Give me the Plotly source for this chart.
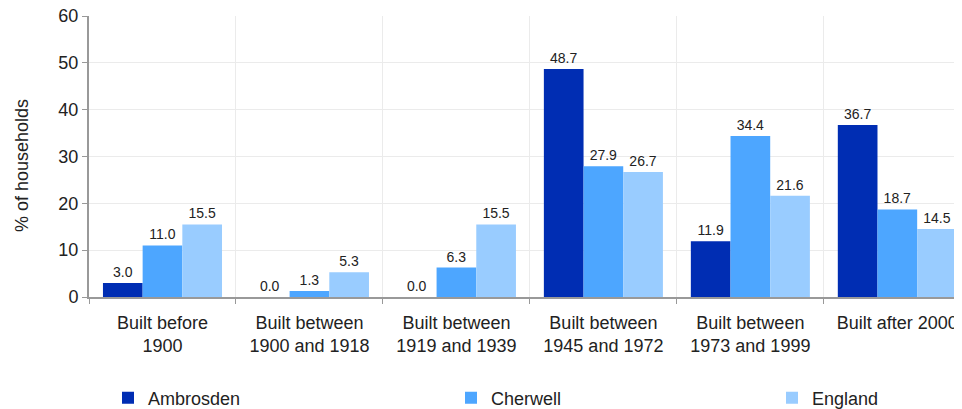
import plotly.graph_objects as go

categories = ["Built before<br>1900", "Built between<br>1900 and 1918", "Built between<br>1919 and 1939",
              "Built between<br>1945 and 1972", "Built between<br>1973 and 1999", "Built after 2000"]
ambrosden = [3.0, 0.0, 0.0, 48.7, 11.9, 36.7]
cherwell = [11.0, 1.3, 6.3, 27.9, 34.4, 18.7]
england = [15.5, 5.3, 15.5, 26.7, 21.6, 14.5]
series_names = ["Ambrosden", "Cherwell", "England"]
colors = ["#002DB3", "#4DA6FF", "#99CCFF"]
legend_ids = ["legend", "legend2", "legend3"]
legend_x = [100, 443, 764]

W, H = 954, 401  # page body has an 8px margin

fig = go.Figure()
for name, vals, col, lg in zip(series_names, [ambrosden, cherwell, england], colors, legend_ids):
    fig.add_trace(go.Bar(
        x=categories, y=vals, name=name, marker=dict(color=col, line=dict(width=0)),
        text=[f"{v:.1f}" for v in vals], textposition="outside", cliponaxis=False,
        textfont=dict(size=14, color="#222222"), legend=lg,
    ))

legend_common = dict(orientation="h", xref="container", yref="container",
                     xanchor="left", yanchor="middle", y=(H - 390) / H,
                     font=dict(size=18, color="#222222"), itemwidth=30,
                     bgcolor="rgba(0,0,0,0)")
layout_legends = {}
for lg, lx in zip(legend_ids, legend_x):
    layout_legends[lg] = dict(legend_common, x=lx / W)

fig.update_layout(
    width=W, height=H,
    margin=dict(l=81, r=0, t=8, b=112, autoexpand=False),
    paper_bgcolor="white", plot_bgcolor="white",
    font=dict(family="Liberation Sans, Arial, sans-serif", color="#222222"),
    barmode="group", bargap=0.19, bargroupgap=0,
    showlegend=True,
    **layout_legends,
)
fig.add_annotation(text="% of households", textangle=-90, xref="paper", yref="paper",
                   x=(22 - 89) / 873, y=(297 - 166) / 281, showarrow=False,
                   font=dict(size=18, color="#222222"), xanchor="center", yanchor="middle")
fig.update_xaxes(
    tickson="boundaries", showgrid=True, gridcolor="#EBEBEB", gridwidth=1,
    showline=True, linecolor="#999999", linewidth=2,
    ticks="outside", ticklen=5, tickcolor="#999999",
    tickfont=dict(size=18, color="#222222"), ticklabelstandoff=8,
    ticklabeloverflow="allow",
    range=[-0.5, 5.44], automargin=False,
)
fig.update_yaxes(
    range=[0, 60], dtick=10, showgrid=True, gridcolor="#EBEBEB", gridwidth=1,
    showline=True, linecolor="#999999", linewidth=2,
    ticks="outside", ticklen=5, tickcolor="#999999",
    tickfont=dict(size=18, color="#222222"), ticklabeloverflow="allow",
    zeroline=False, automargin=False,
)
fig.write_html("out.html")
